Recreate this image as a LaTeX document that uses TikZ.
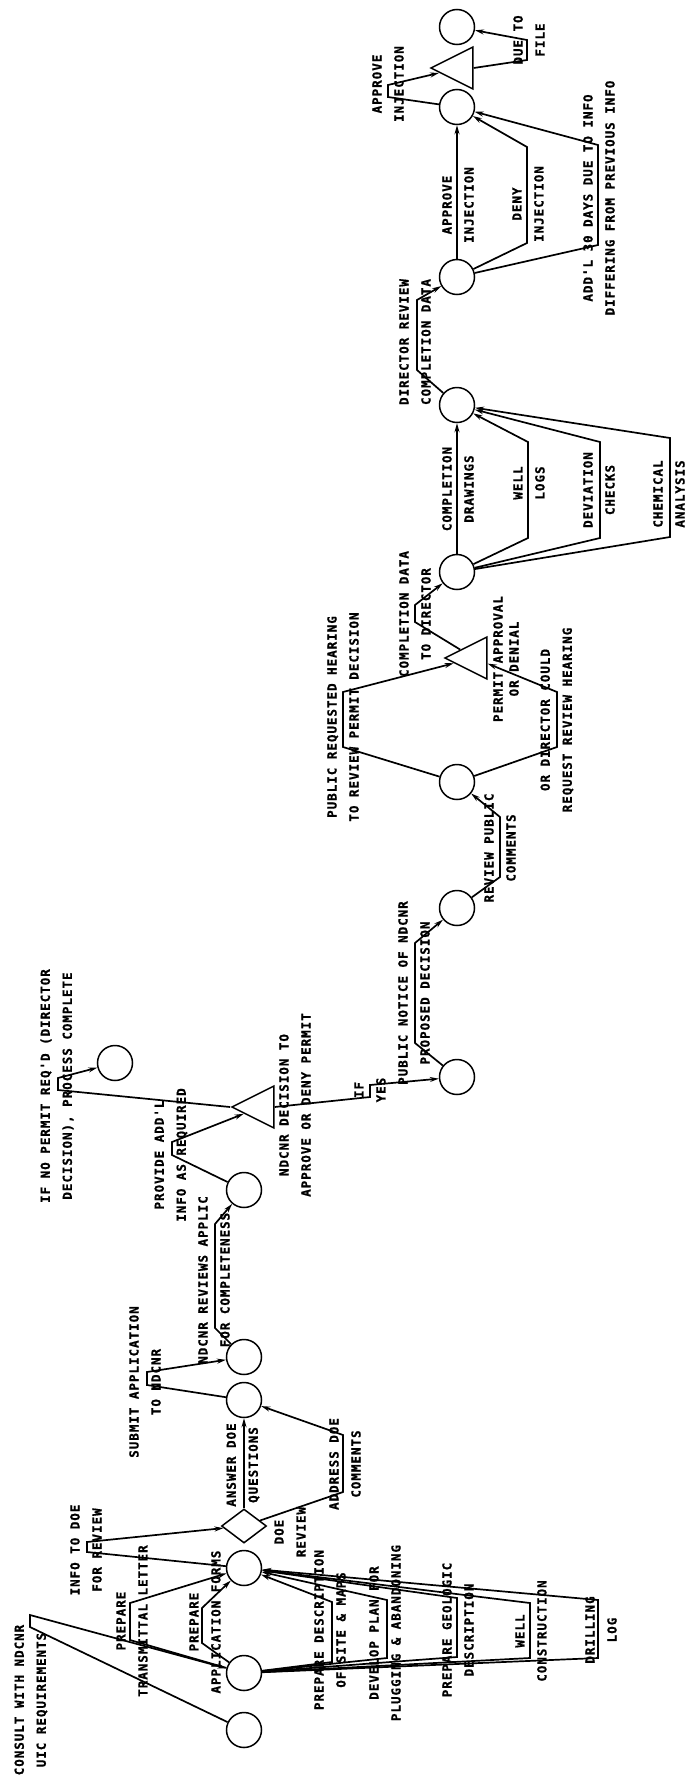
\documentclass[tikz,border=0pt]{standalone}
\usepackage{fontspec}
\newfontfamily\lblfont[LetterSpace=8,BoldFeatures={FakeBold=1}]{DejaVu Sans Mono}
\usetikzlibrary{shapes.geometric,arrows.meta}
\begin{document}
\begin{tikzpicture}[x=1pt,y=-1pt,
 state/.style={circle,draw,line width=1.5pt,minimum size=35pt,inner sep=0pt},
 tri/.style={isosceles triangle,isosceles triangle stretches,shape border rotate=180,draw,line width=1.5pt,minimum width=42pt,minimum height=42pt,inner sep=0pt,anchor=apex},
 dec/.style={diamond,draw,line width=1.5pt,minimum width=45pt,minimum height=34pt,inner sep=0pt},
 flow/.style={line width=1.7pt,-{Stealth[length=9pt,width=5pt]}},
 lbl/.style={rotate=90,align=center,inner sep=0pt,font=\lblfont\bfseries\fontsize{12.5}{22}\selectfont},
]
\useasboundingbox (0,0) rectangle (686,1791);
% nodes
\node[state] (A) at (244,1730) {};
\node[state] (B) at (244,1673) {};
\node[state] (C) at (244,1568) {};
\node[dec]   (D) at (244,1526) {};
\node[state] (E) at (244,1400) {};
\node[state] (F) at (244,1357) {};
\node[state] (G) at (244,1190) {};
\node[tri]   (T1) at (230,1107) {};
\node[state] (H) at (115,1063) {};
\node[state] (I) at (457,1077) {};
\node[state] (J) at (457,908) {};
\node[state] (K) at (457,782) {};
\node[tri]   (T2) at (443,658) {};
\node[state] (L) at (457,572) {};
\node[state] (M) at (457,405) {};
\node[state] (N) at (457,277) {};
\node[state] (O) at (457,107) {};
\node[tri]   (T3) at (429,68) {};
\node[state] (P) at (457,27) {};
% bend points
\coordinate (c1lo) at (30,1627); \coordinate (c1hi) at (30,1615);
\coordinate (p1lo) at (130,1640); \coordinate (p1hi) at (130,1603);
\coordinate (p2lo) at (202,1643); \coordinate (p2hi) at (202,1608);
\coordinate (q1lo) at (332,1662); \coordinate (q1hi) at (332,1602);
\coordinate (q2lo) at (387,1658); \coordinate (q2hi) at (387,1600);
\coordinate (q3lo) at (457,1657); \coordinate (q3hi) at (457,1598);
\coordinate (q4lo) at (530,1658); \coordinate (q4hi) at (530,1603);
\coordinate (q5lo) at (598,1658); \coordinate (q5hi) at (598,1600);
\coordinate (r1lo) at (87,1552); \coordinate (r1hi) at (87,1542);
\coordinate (s1lo) at (343,1492); \coordinate (s1hi) at (343,1435);
\coordinate (t1lo) at (147,1385); \coordinate (t1hi) at (147,1372);
\coordinate (u1lo) at (215,1328); \coordinate (u1hi) at (215,1224);
\coordinate (v1lo) at (172,1155); \coordinate (v1hi) at (172,1142);
\coordinate (w1lo) at (58,1090); \coordinate (w1hi) at (58,1078);
\coordinate (x1lo) at (370,1097); \coordinate (x1hi) at (370,1085);
\coordinate (y1lo) at (415,1043); \coordinate (y1hi) at (415,943);
\coordinate (z1lo) at (500,877); \coordinate (z1hi) at (500,817);
\coordinate (k1lo) at (343,747); \coordinate (k1hi) at (343,692);
\coordinate (k2lo) at (557,747); \coordinate (k2hi) at (557,692);
\coordinate (l1lo) at (415,622); \coordinate (l1hi) at (415,605);
\coordinate (m1lo) at (528,538); \coordinate (m1hi) at (528,442);
\coordinate (m2lo) at (600,538); \coordinate (m2hi) at (600,442);
\coordinate (m3lo) at (670,537); \coordinate (m3hi) at (670,438);
\coordinate (n1lo) at (417,370); \coordinate (n1hi) at (417,300);
\coordinate (o1lo) at (527,243); \coordinate (o1hi) at (527,147);
\coordinate (o2lo) at (598,245); \coordinate (o2hi) at (598,145);
\coordinate (g1lo) at (388,97); \coordinate (g1hi) at (388,85);
\coordinate (h1lo) at (527,60); \coordinate (h1hi) at (527,40);
% connectors
\draw[flow] (A) -- (c1lo) -- (c1hi) -- (B);
\draw[flow] (B) -- (p1lo) -- (p1hi) -- (C);
\draw[flow] (B) -- (p2lo) -- (p2hi) -- (C);
\draw[flow] (B) -- (q1lo) -- (q1hi) -- (C);
\draw[flow] (B) -- (q2lo) -- (q2hi) -- (C);
\draw[flow] (B) -- (q3lo) -- (q3hi) -- (C);
\draw[flow] (B) -- (q4lo) -- (q4hi) -- (C);
\draw[flow] (B) -- (q5lo) -- (q5hi) -- (C);
\draw[flow] (C) -- (r1lo) -- (r1hi) -- (D);
\draw[flow] (D) -- (E);
\draw[flow] (D) -- (s1lo) -- (s1hi) -- (E);
\draw[flow] (E) -- (t1lo) -- (t1hi) -- (F);
\draw[flow] (F) -- (u1lo) -- (u1hi) -- (G);
\draw[flow] (G) -- (v1lo) -- (v1hi) -- (T1);
\draw[flow] (T1.apex) -- (w1lo) -- (w1hi) -- (H);
\draw[flow] (T1.lower side) -- (x1lo) -- (x1hi) -- (I);
\draw[flow] (I) -- (y1lo) -- (y1hi) -- (J);
\draw[flow] (J) -- (z1lo) -- (z1hi) -- (K);
\draw[flow] (K) -- (k1lo) -- (k1hi) -- (T2);
\draw[flow] (K) -- (k2lo) -- (k2hi) -- (T2);
\draw[flow] (T2) -- (l1lo) -- (l1hi) -- (L);
\draw[flow] (L) -- (M);
\draw[flow] (L) -- (m1lo) -- (m1hi) -- (M);
\draw[flow] (L) -- (m2lo) -- (m2hi) -- (M);
\draw[flow] (L) -- (m3lo) -- (m3hi) -- (M);
\draw[flow] (M) -- (n1lo) -- (n1hi) -- (N);
\draw[flow] (N) -- (O);
\draw[flow] (N) -- (o1lo) -- (o1hi) -- (O);
\draw[flow] (N) -- (o2lo) -- (o2hi) -- (O);
\draw[flow] (O) -- (g1lo) -- (g1hi) -- (T3);
\draw[flow] (T3.lower side) -- (h1lo) -- (h1hi) -- (P);
% labels
\node[lbl] (la) at (31,1700) {CONSULT WITH NDCNR\\UIC REQUIREMENTS};
\node[lbl] (lb) at (132,1621) {PREPARE\\TRANSMITTAL LETTER};
\node[lbl] (lc) at (205,1622) {PREPARE\\APPLICATION FORMS};
\node[lbl] (ld) at (330,1630) {PREPARE DESCRIPTION\\OF SITE \& MAPS};
\node[lbl] (le) at (385,1633) {DEVELOP PLAN FOR\\PLUGGING \& ABANDONING};
\node[lbl] (lf) at (458,1630) {PREPARE GEOLOGIC\\DESCRIPTION};
\node[lbl] (lg) at (531,1631) {WELL\\CONSTRUCTION};
\node[lbl] (lh) at (601,1630) {DRILLING\\LOG};
\node[lbl] (li) at (86,1550) {INFO TO DOE\\FOR REVIEW};
\node[lbl] (lj) at (290,1532) {DOE\\REVIEW};
\node[lbl] (lk) at (243,1465) {ANSWER DOE\\QUESTIONS};
\node[lbl] (ll) at (345,1464) {ADDRESS DOE\\COMMENTS};
\node[lbl] (lm) at (145,1382) {SUBMIT APPLICATION\\TO NDCNR};
\node[lbl] (ln) at (214,1280) {NDCNR REVIEWS APPLIC\\FOR COMPLETENESS};
\node[lbl] (lo) at (171,1155) {PROVIDE ADD'L\\INFO AS REQUIRED};
\node[lbl] (lp) at (57,1086) {IF NO PERMIT REQ'D (DIRECTOR\\DECISION), PROCESS COMPLETE};
\node[lbl] (lq) at (295,1105) {NDCNR DECISION TO\\APPROVE OR DENY PERMIT};
\node[lbl] (lr) at (370,1090) {IF\\YES};
\node[lbl] (ls) at (414,993) {PUBLIC NOTICE OF NDCNR\\PROPOSED DECISION};
\node[lbl] (lt) at (500,848) {REVIEW PUBLIC\\COMMENTS};
\node[lbl] (lu) at (343,717) {PUBLIC REQUESTED HEARING\\TO REVIEW PERMIT DECISION};
\node[lbl] (lv) at (557,720) {OR DIRECTOR COULD\\REQUEST REVIEW HEARING};
\node[lbl,font=\lblfont\bfseries\fontsize{12.5}{16}\selectfont] (lw) at (506,659) {PERMIT APPROVAL\\OR DENIAL};
\node[lbl] (lx) at (415,614) {COMPLETION DATA\\TO DIRECTOR};
\node[lbl] (ly) at (458,489) {COMPLETION\\DRAWINGS};
\node[lbl] (lz) at (529,483) {WELL\\LOGS};
\node[lbl] (m1) at (599,490) {DEVIATION\\CHECKS};
\node[lbl] (m2) at (669,494) {CHEMICAL\\ANALYSIS};
\node[lbl] (m3) at (415,342) {DIRECTOR REVIEW\\COMPLETION DATA};
\node[lbl] (m4) at (458,205) {APPROVE\\INJECTION};
\node[lbl] (m5) at (528,204) {DENY\\INJECTION};
\node[lbl] (m6) at (599,198) {ADD'L 30 DAYS DUE TO INFO\\DIFFERING FROM PREVIOUS INFO};
\node[lbl] (m7) at (388,84) {APPROVE\\INJECTION};
\node[lbl] (m8) at (529,40) {DUE TO\\FILE};
\end{tikzpicture}
\end{document}
